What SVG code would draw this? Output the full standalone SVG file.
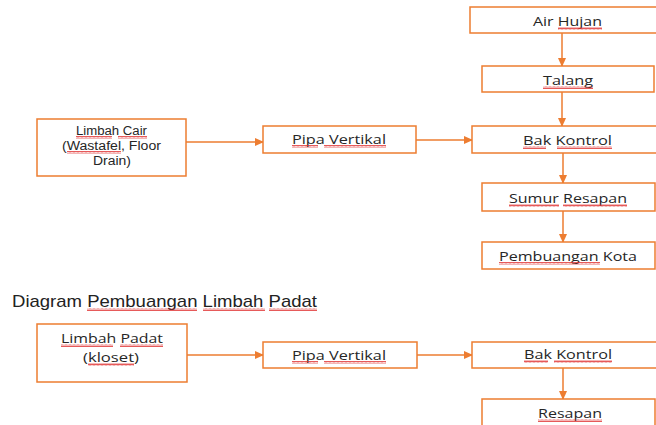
<svg xmlns="http://www.w3.org/2000/svg" width="656" height="425" viewBox="0 0 656 425">
<style>
.box{fill:#fff;stroke:#ED7D31;stroke-width:1.5}
.t{font-family:"Open Sans","Liberation Sans",sans-serif;font-size:13px;fill:#262626}
.s{font-family:"Liberation Sans",Arial,sans-serif;font-size:12.5px}
.title{font-family:"Liberation Sans",Arial,sans-serif;font-size:17px;fill:#222}
.c{stroke:#ED7D31;stroke-width:1.5;fill:none}
.sq{fill:url(#sq)}
</style>
<defs>
<marker id="ah" markerWidth="9" markerHeight="8" refX="8" refY="4" orient="auto" markerUnits="userSpaceOnUse">
<path d="M0,0 L9,4 L0,8 z" fill="#ED7D31"/>
</marker>
<pattern id="sq" width="4" height="3" patternUnits="userSpaceOnUse">
<path d="M0,2.5 L1,0.5 L2,2.5 L3,0.5 L4,2.5" stroke="#E03030" stroke-width="0.8" fill="none"/>
</pattern>
</defs>
<rect width="656" height="425" fill="#fff"/>

<g id="connectors">
<line class="c" x1="562" y1="33" x2="562" y2="66" marker-end="url(#ah)"/>
<line class="c" x1="562" y1="92" x2="562" y2="126" marker-end="url(#ah)"/>
<line class="c" x1="563" y1="153" x2="563" y2="183" marker-end="url(#ah)"/>
<line class="c" x1="563" y1="211" x2="563" y2="242" marker-end="url(#ah)"/>
<line class="c" x1="186" y1="142" x2="263" y2="142" marker-end="url(#ah)"/>
<line class="c" x1="416" y1="140" x2="472" y2="140" marker-end="url(#ah)"/>
<line class="c" x1="187" y1="355" x2="263" y2="355" marker-end="url(#ah)"/>
<line class="c" x1="417" y1="355" x2="472" y2="355" marker-end="url(#ah)"/>
<line class="c" x1="563" y1="368" x2="563" y2="399" marker-end="url(#ah)"/>
</g>

<g id="air-hujan">
<rect class="box" x="470" y="7" width="195" height="26"/>
<text class="t" x="533" y="26" textLength="69" lengthAdjust="spacingAndGlyphs">Air Hujan</text>
<rect class="sq" x="558" y="27" width="44" height="3"/>
</g>
<g id="talang">
<rect class="box" x="482" y="66" width="172" height="26"/>
<text class="t" x="543" y="85" textLength="50" lengthAdjust="spacingAndGlyphs">Talang</text>
<rect class="sq" x="543" y="86" width="50" height="3"/>
</g>
<g id="bak-kontrol-1">
<rect class="box" x="472" y="126" width="193" height="27"/>
<text class="t" x="523" y="145" textLength="89" lengthAdjust="spacingAndGlyphs">Bak Kontrol</text>
<rect class="sq" x="523" y="146" width="23" height="3"/>
<rect class="sq" x="557" y="146" width="55" height="3"/>
</g>
<g id="sumur-resapan">
<rect class="box" x="482" y="183" width="173" height="28"/>
<text class="t" x="509" y="203" textLength="118" lengthAdjust="spacingAndGlyphs">Sumur Resapan</text>
<rect class="sq" x="509" y="204" width="50" height="3"/>
<rect class="sq" x="563" y="204" width="64" height="3"/>
</g>
<g id="pembuangan-kota">
<rect class="box" x="482" y="242" width="173" height="27"/>
<text class="t" x="499" y="261" textLength="138" lengthAdjust="spacingAndGlyphs">Pembuangan Kota</text>
<rect class="sq" x="499" y="262" width="101" height="3"/>
</g>
<g id="limbah-cair">
<rect class="box" x="37" y="119" width="149" height="57"/>
<text class="t s" x="76" y="135" textLength="71" lengthAdjust="spacingAndGlyphs">Limbah Cair</text>
<text class="t s" x="62" y="150" textLength="99" lengthAdjust="spacingAndGlyphs">(Wastafel, Floor</text>
<text class="t s" x="93" y="165" textLength="38" lengthAdjust="spacingAndGlyphs">Drain)</text>
<rect class="sq" x="76" y="136" width="36" height="3"/>
<rect class="sq" x="118" y="136" width="29" height="3"/>
<rect class="sq" x="67" y="151" width="54" height="3"/>
</g>
<g id="pipa-vertikal-1">
<rect class="box" x="263" y="126" width="153" height="27"/>
<text class="t" x="292" y="144" textLength="94" lengthAdjust="spacingAndGlyphs">Pipa Vertikal</text>
<rect class="sq" x="292" y="145" width="26" height="3"/>
<rect class="sq" x="324" y="145" width="62" height="3"/>
</g>

<g id="title">
<text class="title" x="12" y="307" textLength="305" lengthAdjust="spacingAndGlyphs">Diagram Pembuangan Limbah Padat</text>
<rect class="sq" x="87" y="308" width="110" height="3"/>
<rect class="sq" x="203" y="308" width="62" height="3"/>
<rect class="sq" x="269" y="308" width="48" height="3"/>
</g>

<g id="limbah-padat">
<rect class="box" x="37" y="324" width="150" height="58"/>
<text class="t" x="61" y="343" textLength="102" lengthAdjust="spacingAndGlyphs">Limbah Padat</text>
<text class="t" x="83" y="362" textLength="56" lengthAdjust="spacingAndGlyphs">(kloset)</text>
<rect class="sq" x="61" y="344" width="52" height="3"/>
<rect class="sq" x="120" y="344" width="43" height="3"/>
<rect class="sq" x="88" y="363" width="46" height="3"/>
</g>
<g id="pipa-vertikal-2">
<rect class="box" x="263" y="342" width="154" height="26"/>
<text class="t" x="292" y="360" textLength="94" lengthAdjust="spacingAndGlyphs">Pipa Vertikal</text>
<rect class="sq" x="292" y="361" width="26" height="3"/>
<rect class="sq" x="324" y="361" width="62" height="3"/>
</g>
<g id="bak-kontrol-2">
<rect class="box" x="472" y="342" width="193" height="26"/>
<text class="t" x="524" y="359" textLength="88" lengthAdjust="spacingAndGlyphs">Bak Kontrol</text>
<rect class="sq" x="524" y="360" width="24" height="3"/>
<rect class="sq" x="554" y="360" width="58" height="3"/>
</g>
<g id="resapan">
<rect class="box" x="482" y="399" width="173" height="40"/>
<text class="t" x="538" y="418" textLength="64" lengthAdjust="spacingAndGlyphs">Resapan</text>
<rect class="sq" x="538" y="419" width="64" height="3"/>
</g>
</svg>
